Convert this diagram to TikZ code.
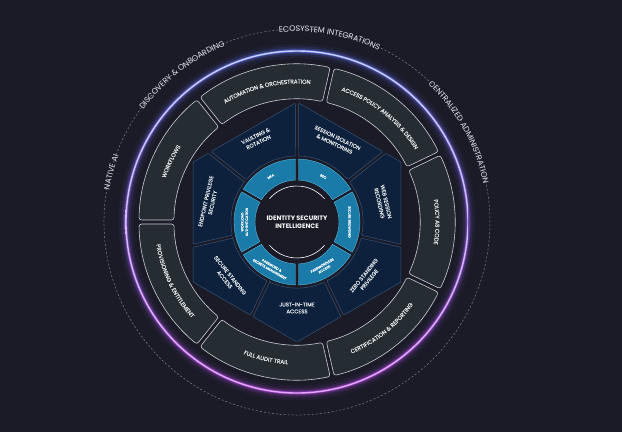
\documentclass[tikz,border=0pt]{standalone}
\usepackage{fontspec}
\setmainfont{Poppins}
\newfontfamily\popm{Poppins}[FakeBold=0.2]
\usetikzlibrary{decorations.text,calc}
\definecolor{bg}{HTML}{1A1B27}
\definecolor{segfill}{HTML}{262D32}
\definecolor{segline}{HTML}{C9CED2}
\definecolor{navyfill}{HTML}{0E213C}
\definecolor{navyline}{HTML}{3A5676}
\definecolor{cyanfill}{HTML}{1A7BA8}
\definecolor{cyanline}{HTML}{5FB3DB}
\definecolor{glowtop}{HTML}{5E70F0}
\definecolor{glowmid}{HTML}{8C62E6}
\definecolor{glowbot}{HTML}{B046DE}
\definecolor{coretop}{HTML}{C9D2FF}
\definecolor{corebot}{HTML}{E6A6FF}
\definecolor{dashcol}{HTML}{80838F}
\definecolor{txt}{HTML}{E6EAEE}
\definecolor{olab}{HTML}{E0E2EA}
\newcommand\ofont{\fontsize{8}{9}\selectfont}
\newcommand\gfont{\popm\fontsize{5.7}{6}\selectfont}
\newlength\lw
\tikzset{
 grayseg/.style={fill=segfill, draw=segline, line width=0.6pt, rounded corners=2.5pt},
 navyseg/.style={fill=navyfill, draw=navyline, line width=0.45pt, rounded corners=1pt},
 cyanseg/.style={fill=cyanfill, draw=cyanline, line width=0.4pt},
 navytxt/.style={text=txt, font=\popm\fontsize{5.4}{6.9}\selectfont, align=center, inner sep=0pt},
 cyantxt/.style={text=white, font=\popm\fontsize{3.4}{4.4}\selectfont, align=center, inner sep=0pt},
 ringdash/.style={draw=dashcol, line width=0.5pt, dash pattern=on 2pt off 2pt},
}
\newcommand\hexpt[2]{%
  \pgfmathsetmacro\hxang{#2}%
  \pgfmathsetmacro\hxn{60*round(\hxang/60)}%
  \pgfmathsetmacro\hxr{103.923/cos(\hxang-\hxn)}%
  \coordinate (#1) at (\hxang:\hxr);}
\newcommand\navypiece[4]{%
  \hexpt{#1a}{#2+0.8}\hexpt{#1b}{#3-0.8}%
  \draw[navyseg] (#2+1.3:66) -- (#1a) #4 -- (#1b) -- (#3-1.3:66) arc[start angle=#3-1.3, end angle=#2+1.3, radius=66] -- cycle;}
\newcommand\graypiece[2]{%
  \draw[grayseg] (#1+0.73:158) arc[start angle=#1+0.73, end angle=#2-0.73, radius=158] -- (#2-0.93:123) arc[start angle=#2-0.93, end angle=#1+0.93, radius=123] -- cycle;}
\newcommand\cyanpiece[2]{%
  \draw[cyanseg] (#1+1.36:63) arc[start angle=#1+1.36, end angle=#2-1.36, radius=63] -- (#2-2.1:42) arc[start angle=#2-2.1, end angle=#1+2.1, radius=42] -- cycle;}
\newcommand\graylabel[3]{%
  \path[decorate, decoration={text along path, text align=center, raise=-2pt, text color=txt, text={|\gfont|#3}}] (#1:140.5) arc[start angle=#1, end angle=#2, radius=140.5];}
\newcommand\outerlabel[3]{%
  \path[decorate, decoration={text along path, text align=center, raise=-2.8pt, text color=olab, text={|\ofont|#3}}] (#1+#2:193) arc[start angle=#1+#2, end angle=#1-#2, radius=193];}
\begin{document}
\begin{tikzpicture}[x=1pt,y=1pt]
\useasboundingbox (-297,-210) rectangle (325,222);
\fill[bg] (-297,-210) rectangle (325,222);

% ---- outer dashed ring with labels
\settowidth\lw{\ofont ECOSYSTEM INTEGRATIONS}\pgfmathsetmacro\hA{\lw/193*28.6479+2.5}
\settowidth\lw{\ofont CENTRALIZED ADMINISTRATION}\pgfmathsetmacro\hB{\lw/193*28.6479+2.5}
\settowidth\lw{\ofont DISCOVERY \& ONBOARDING}\pgfmathsetmacro\hC{\lw/193*28.6479+2.5}
\settowidth\lw{\ofont NATIVE AI}\pgfmathsetmacro\hD{\lw/193*28.6479+2.5}
\def\cA{80}\def\cB{29}\def\cC{128}\def\cD{165}
\path[ringdash] (\cB+\hB:193) arc[start angle=\cB+\hB, end angle=\cA-\hA, radius=193];
\path[ringdash] (\cA+\hA:193) arc[start angle=\cA+\hA, end angle=\cC-\hC, radius=193];
\path[ringdash] (\cC+\hC:193) arc[start angle=\cC+\hC, end angle=\cD-\hD, radius=193];
\path[ringdash] (\cD+\hD:193) arc[start angle=\cD+\hD, end angle=360+\cB-\hB, radius=193];
\outerlabel{\cA}{35}{ECOSYSTEM INTEGRATIONS}
\outerlabel{\cB}{35}{CENTRALIZED ADMINISTRATION}
\outerlabel{\cC}{30}{DISCOVERY {\&} ONBOARDING}
\outerlabel{\cD}{20}{NATIVE AI}

% ---- glowing ring
\foreach \w/\op in {15/0.06,9.5/0.12,5.5/0.25,2.8/0.6}{
  \shade[top color=glowtop, bottom color=glowbot, middle color=glowmid, opacity=\op, even odd rule] (0,0) circle[radius=171+\w/2] (0,0) circle[radius=171-\w/2];
}
\shade[top color=coretop, bottom color=corebot, even odd rule] (0,0) circle[radius=171.7] (0,0) circle[radius=170.3];

% ---- grey capability ring
\graypiece{77.143}{128.571}
\graypiece{25.714}{77.143}
\graypiece{-25.714}{25.714}
\graypiece{-77.143}{-25.714}
\graypiece{-128.571}{-77.143}
\graypiece{-180}{-128.571}
\graypiece{128.571}{180}
\graylabel{130.857}{74.857}{AUTOMATION {\&} ORCHESTRATION}
\graylabel{79.43}{23.43}{ACCESS POLICY ANALYSIS {\&} DESIGN}
\graylabel{28}{-28}{POLICY AS CODE}
\graylabel{182.29}{126.29}{WORKFLOWS}
\graylabel{-79.43}{-23.43}{CERTIFICATION {\&} REPORTING}
\graylabel{-130.86}{-74.86}{FULL AUDIT TRAIL}
\graylabel{177.71}{233.71}{PROVISIONING {\&} ENTITLEMENT}

% ---- navy hexagon pieces
\navypiece{ses}{38.571}{90}{}
\navypiece{web}{-12.857}{38.571}{-- (30:120)}
\navypiece{zer}{-64.286}{-12.857}{-- (-30:120)}
\navypiece{jit}{-115.714}{-64.286}{-- (-90:120)}
\navypiece{sec}{-167.143}{-115.714}{-- (-150:120)}
\navypiece{end}{141.429}{192.857}{-- (150:120)}
\navypiece{vau}{90}{141.429}{}
\node[navytxt, rotate=25.714] (tvau) at (115.714:92) {VAULTING \&\\ROTATION};
\node[navytxt, rotate=-25.714] (tses) at (64.286:90) {SESSION ISOLATION\\\& MONITORING};
\node[navytxt, rotate=-77.143] (tweb) at (12.857:88) {WEB SESSION\\RECORDING};
\node[navytxt, rotate=51.429] (tzer) at (-38.571:89) {ZERO STANDING\\PRIVILEGE};
\node[navytxt] (tjit) at (-90:86) {JUST-IN-TIME\\ACCESS};
\node[navytxt, rotate=-51.429] (tsec) at (-141.429:89) {SECURE STANDING\\ACCESS};
\node[navytxt, rotate=77.143] (tend) at (167.143:90) {ENDPOINT PRIVILEGE\\SECURITY};

% ---- cyan ring
\cyanpiece{90}{150}
\cyanpiece{30}{90}
\cyanpiece{-30}{30}
\cyanpiece{-90}{-30}
\cyanpiece{210}{270}
\cyanpiece{150}{210}
\node[cyantxt, rotate=30] (tmfa) at (120:52.5) {MFA};
\node[cyantxt, rotate=-30] (tsso) at (60:52.5) {SSO};
\node[cyantxt, rotate=-90] (tsbr) at (0:52.5) {SECURE BROWSING};
\node[cyantxt, rotate=30] (tpwl) at (-60:52.5) {PASSWORDLESS\\ACCESS};
\node[cyantxt, rotate=-30] (tpsm) at (240:52.5) {PASSWORD \&\\SECRETS MANAGEMENT};
\node[cyantxt, rotate=90] (twla) at (180:52.5) {WORKLOAD\\AUTHENTICATION};

% ---- core
\draw[white, line width=0.6pt] (40:36) arc[start angle=40, end angle=140, radius=36];
\draw[white, line width=0.6pt] (220:36) arc[start angle=220, end angle=320, radius=36];
\node[text=white, font=\fontsize{6.4}{7.8}\selectfont\bfseries, align=center, inner sep=0pt] (core) at (0,0) {IDENTITY SECURITY\\INTELLIGENCE};
\end{tikzpicture}
\end{document}
